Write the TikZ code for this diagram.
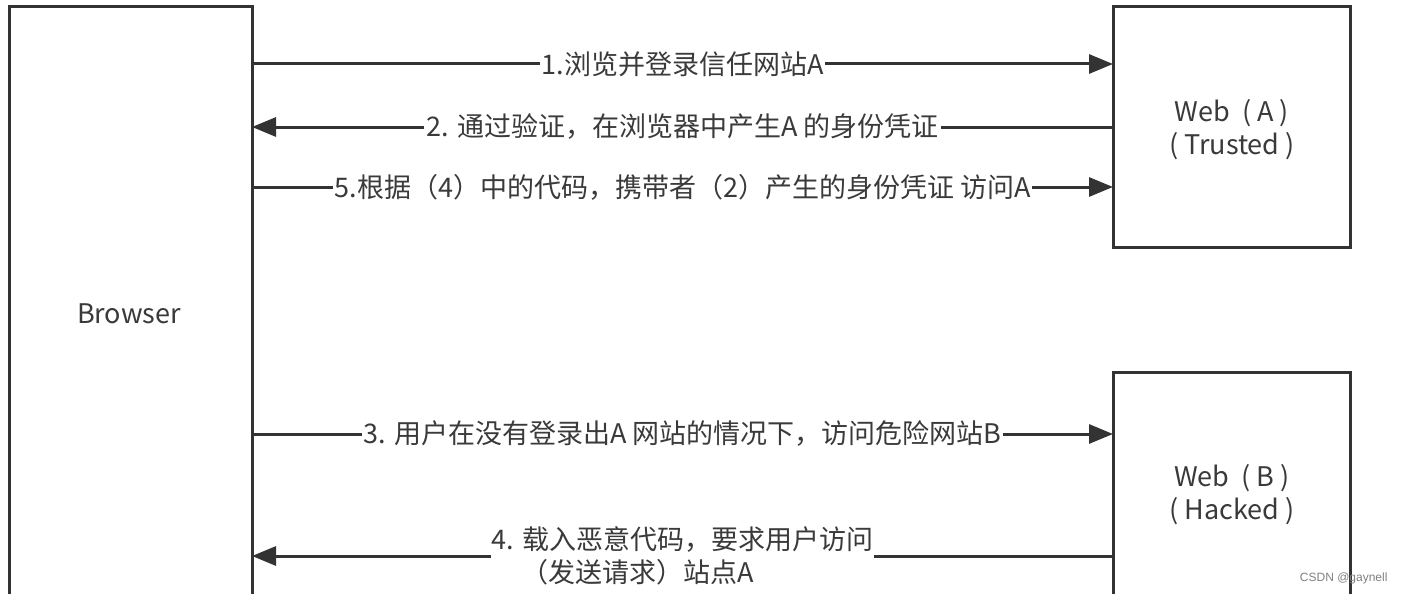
\documentclass[tikz,border=0pt]{standalone}
\usepackage{fontspec}
\setmainfont{Noto Sans CJK SC}
\newfontfamily\wmfont{Liberation Sans}
\usetikzlibrary{arrows.meta}
\definecolor{ink}{HTML}{333333}
\definecolor{txt}{HTML}{3A3A3A}
\tikzset{
  box/.style={draw=ink, line width=3pt, fill=none},
  conn/.style={draw=ink, line width=3pt, -{Triangle[length=24pt,width=19pt]}},
  lbl/.style={fill=white, text=txt, font=\fontsize{27}{33}\selectfont, inner sep=2pt},
  boxtext/.style={text=txt, font=\fontsize{27}{33}\selectfont, align=center},
}
\begin{document}
\begin{tikzpicture}[x=1pt,y=-1pt]
\useasboundingbox (0,0) rectangle (1405,594);
\fill[white] (0,0) rectangle (1405,594);
\begin{scope}
\clip (0,0) rectangle (1405,594);
% boxes
\draw[box] (9,7) rectangle (252,620);
\draw[box] (1113,7) rectangle (1350,247);
\draw[box] (1113,372) rectangle (1350,620);
\end{scope}
\node[boxtext] (browser) at (129,314) {Browser};
\node[boxtext] (weba) at (1232,130) {Web\ \ (\ A\ )\\(\ Trusted\ )};
\node[boxtext] (webb) at (1232,495) {Web\ \ (\ B\ )\\(\ Hacked\ )};
% anchor points
\coordinate (b1) at (252,64);   \coordinate (a1) at (1113,64);
\coordinate (b2) at (252,127);  \coordinate (a2) at (1113,127);
\coordinate (b5) at (252,187);  \coordinate (a5) at (1113,187);
\coordinate (b3) at (252,434);  \coordinate (h3) at (1113,434);
\coordinate (b4) at (252,556);  \coordinate (h4) at (1113,556);
% connectors
\draw[conn] (b1) -- node[lbl] (l1) {1.浏览并登录信任网站A} (a1);
\draw[conn] (a2) -- node[lbl] (l2) {2. 通过验证，在浏览器中产生A 的身份凭证} (b2);
\draw[conn] (b5) -- node[lbl] (l5) {5.根据（4）中的代码，携带者（2）产生的身份凭证 访问A} (a5);
\draw[conn] (b3) -- node[lbl] (l3) {3. 用户在没有登录出A 网站的情况下，访问危险网站B} (h3);
\draw[conn] (h4) -- node[lbl, align=left, inner sep=1pt] (l4) {4. 载入恶意代码，要求用户访问\\\hspace*{30pt}（发送请求）站点A} (b4);
\node[text=gray, font=\wmfont\fontsize{12}{14}\selectfont, anchor=east] (wm) at (1391,578) {CSDN @gaynell};
\end{tikzpicture}
\end{document}
